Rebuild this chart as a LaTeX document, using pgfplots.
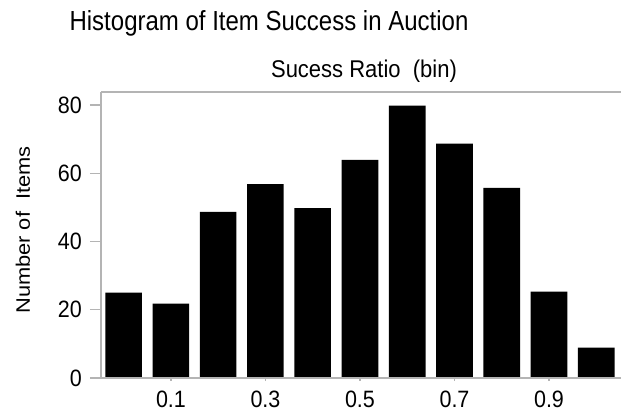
\documentclass[border=0pt]{standalone}
\usepackage{fontspec}
\setmainfont{Liberation Sans}
\usepackage{pgfplots}
\pgfplotsset{compat=1.18}
\definecolor{framegray}{RGB}{180,180,180}
\begin{document}
\begin{tikzpicture}
\pgfplotsset{
  base/.style={
    at={(0,0)}, anchor=south west,
    scale only axis, width=520bp, height=286bp,
    xmin=-0.0481, xmax=1.0524, ymin=0, ymax=83.8,
    /pgf/number format/assume math mode=true,
    tick align=outside,
    tick style={framegray, line width=1.2bp},
    ticklabel style={font=\fontsize{21.5bp}{26bp}\selectfont, inner sep=0pt, yscale=1.1},
    axis line style={framegray, line width=1.2bp},
  }
}
% bars and the y axis
\begin{axis}[base,
  axis x line*=bottom, axis y line*=left,
  xtick=\empty,
  ytick={0,20,40,60,80},
  major tick length=11bp,
  yticklabel style={anchor=east, xshift=-8bp},
]
\addplot[ybar, bar width=0.0773, fill=black, draw=none] coordinates {
  (0.0,25) (0.1,21.8) (0.2,48.7) (0.3,56.8) (0.4,49.8) (0.5,63.9)
  (0.6,79.8) (0.7,68.7) (0.8,55.7) (0.9,25.3) (1.0,8.9)
};
\end{axis}
% x ticks
\begin{axis}[base,
  axis x line*=bottom, axis y line=none,
  xtick={0.1,0.3,0.5,0.7,0.9},
  xticklabels={0.1,0.3,0.5,0.7,0.9},
  ytick=\empty,
  major tick length=3bp,
  xticklabel style={anchor=north, yshift=-9bp},
]
\end{axis}
\draw[framegray, line width=1.2bp] (0,286bp) -- (520bp,286bp);
\node[anchor=base, yscale=1.15, font=\fontsize{24bp}{29bp}\selectfont] at (168bp,347bp) {Histogram of Item Success in Auction};
\node[anchor=base, yscale=1.1, font=\fontsize{22bp}{26bp}\selectfont] at (263bp,300bp) {Sucess Ratio\ \ (bin)};
\node[anchor=base, yscale=1.12, rotate=90, font=\fontsize{19.5bp}{24bp}\selectfont] at (-71bp,148bp) {Number of\ \ Items};
\pgfresetboundingbox
\path[use as bounding box] (-101bp,-34bp) rectangle (520bp,378bp);
\end{tikzpicture}
\end{document}
